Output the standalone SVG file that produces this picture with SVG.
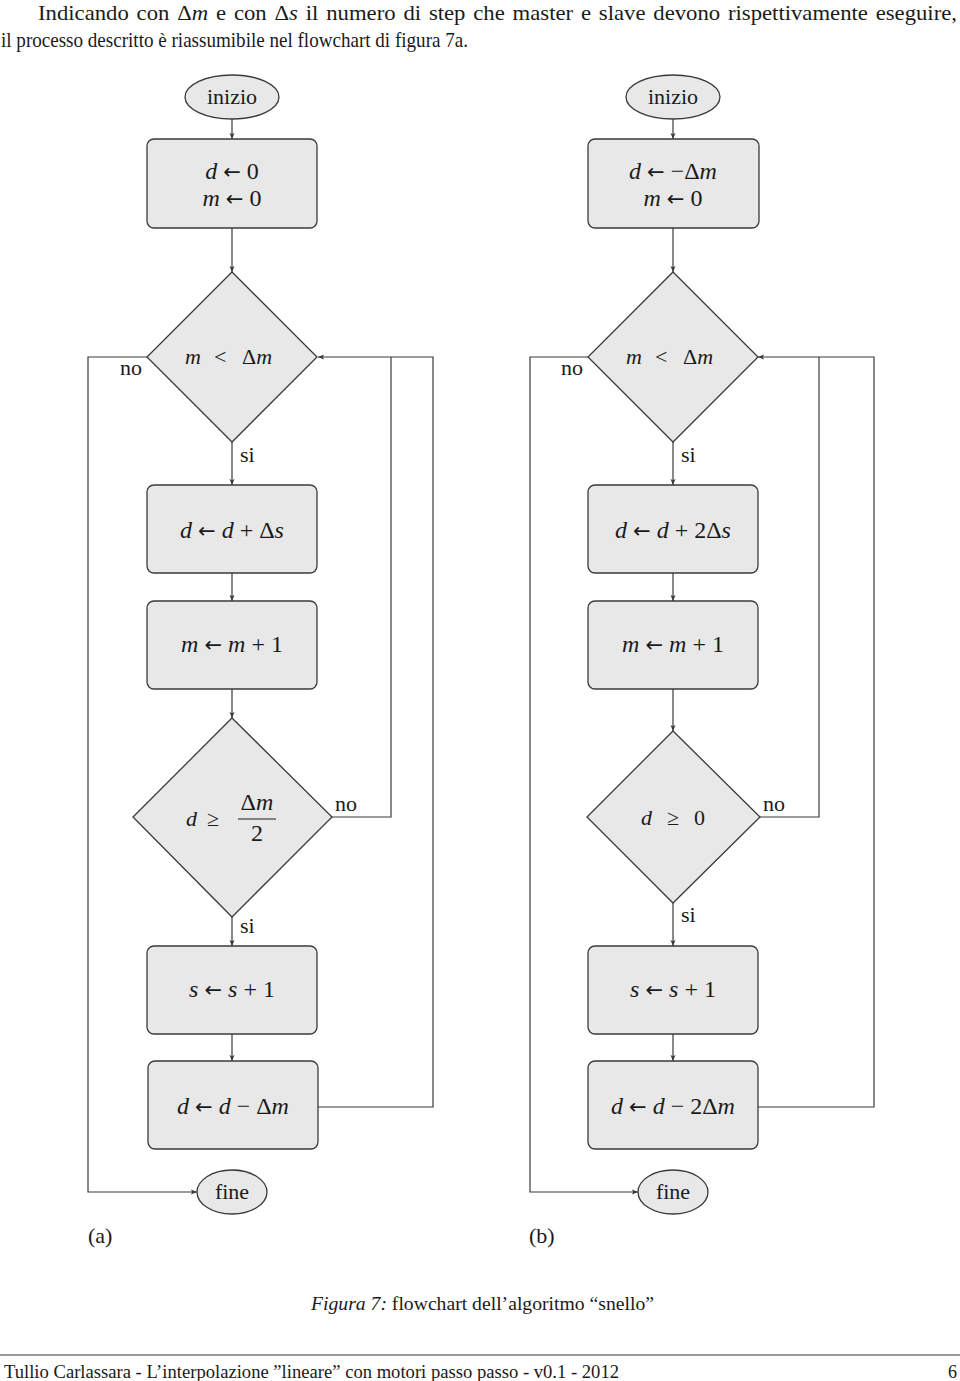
<svg xmlns="http://www.w3.org/2000/svg" width="960" height="1381" viewBox="0 0 960 1381">
<style>
.n{fill:#e8e8e8;stroke:#3a3a3a;stroke-width:1.3}
.c{fill:none;stroke:#3a3a3a;stroke-width:1.2}
text{font-family:"Liberation Serif",serif;fill:#1a1a1a}
.b{font-size:21px}
.m{font-size:22px;text-anchor:middle}
.x{font-size:24px;text-anchor:middle}
.l{font-size:22px}
.i{font-style:italic}
.a{font-family:"DejaVu Sans",sans-serif;font-size:21px}
</style>
<defs>
<marker id="ah" markerWidth="7" markerHeight="6" refX="6" refY="3" orient="auto" markerUnits="userSpaceOnUse"><path d="M0,0.5 L6,3 L0,5.5 L1.2,3 z" fill="#3a3a3a"/></marker>
</defs>
<rect width="960" height="1381" fill="#fff"/>
<text class="b" x="38" y="20" font-size="22" word-spacing="2" textLength="919" lengthAdjust="spacingAndGlyphs">Indicando con Δ<tspan class="i">m</tspan> e con Δ<tspan class="i">s</tspan> il numero di step che master e slave devono rispettivamente eseguire,</text>
<text class="b" x="1" y="47" textLength="467" lengthAdjust="spacingAndGlyphs">il processo descritto è riassumibile nel flowchart di figura 7a.</text>

<g id="connectors">
<path class="c" d="M232,119 V139" marker-end="url(#ah)"/>
<path class="c" d="M232,228 V272" marker-end="url(#ah)"/>
<path class="c" d="M232,442 V485" marker-end="url(#ah)"/>
<path class="c" d="M232,573 V601" marker-end="url(#ah)"/>
<path class="c" d="M232,689 V718" marker-end="url(#ah)"/>
<path class="c" d="M232,917 V946" marker-end="url(#ah)"/>
<path class="c" d="M232,1034 V1061" marker-end="url(#ah)"/>
<path class="c" d="M148,357 H88 V1192 H197" marker-end="url(#ah)"/>
<path class="c" d="M332,817 H391 V357"/>
<path class="c" d="M318,1107 H433 V357 H318" marker-end="url(#ah)"/>
<path class="c" d="M673,119 V139" marker-end="url(#ah)"/>
<path class="c" d="M673,228 V272" marker-end="url(#ah)"/>
<path class="c" d="M673,442 V485" marker-end="url(#ah)"/>
<path class="c" d="M673,573 V601" marker-end="url(#ah)"/>
<path class="c" d="M673,689 V731" marker-end="url(#ah)"/>
<path class="c" d="M673,903 V946" marker-end="url(#ah)"/>
<path class="c" d="M673,1034 V1061" marker-end="url(#ah)"/>
<path class="c" d="M588,357 H530 V1192 H638" marker-end="url(#ah)"/>
<path class="c" d="M760,817 H819 V357"/>
<path class="c" d="M758,1107 H874 V357 H758" marker-end="url(#ah)"/>
<text class="l" x="120" y="375">no</text>
<text class="l" x="240" y="462">si</text>
<text class="l" x="335" y="811">no</text>
<text class="l" x="240" y="933">si</text>
<text class="l" x="561" y="375">no</text>
<text class="l" x="681" y="462">si</text>
<text class="l" x="763" y="811">no</text>
<text class="l" x="681" y="922">si</text>
</g>

<g id="a-start"><ellipse class="n" cx="232" cy="97" rx="47" ry="22"/><text class="m" x="232" y="104">inizio</text></g>
<g id="a-init"><rect class="n" x="147" y="139" width="170" height="89" rx="7"/><text class="x" x="232" y="179"><tspan class="i">d</tspan> <tspan class="a">←</tspan> 0</text><text class="x" x="232" y="206"><tspan class="i">m</tspan> <tspan class="a">←</tspan> 0</text></g>
<g id="a-cond1"><path class="n" d="M232,272 L317,357 L232,442 L147,357 Z"/><text class="l i" x="185" y="364" font-size="24">m</text><text class="l" x="214" y="364" font-size="24">&lt;</text><text class="l" x="242" y="364" font-size="24">Δ<tspan class="i">m</tspan></text></g>
<g id="a-d"><rect class="n" x="147" y="485" width="170" height="88" rx="7"/><text class="x" x="232" y="538"><tspan class="i">d</tspan> <tspan class="a">←</tspan> <tspan class="i">d</tspan> + Δ<tspan class="i">s</tspan></text></g>
<g id="a-m"><rect class="n" x="147" y="601" width="170" height="88" rx="7"/><text class="x" x="232" y="652"><tspan class="i">m</tspan> <tspan class="a">←</tspan> <tspan class="i">m</tspan> + 1</text></g>
<g id="a-cond2"><path class="n" d="M232,718 L332,817 L232,917 L133,817 Z"/>
<text class="l i" x="186" y="826" font-size="24">d</text><text class="l" x="207" y="826" font-size="24">≥</text>
<text class="x" x="257" y="810">Δ<tspan class="i">m</tspan></text>
<line x1="238" y1="819" x2="276" y2="819" stroke="#1a1a1a" stroke-width="1.1"/>
<text class="x" x="257" y="841">2</text></g>
<g id="a-s"><rect class="n" x="147" y="946" width="170" height="88" rx="7"/><text class="x" x="232" y="997"><tspan class="i">s</tspan> <tspan class="a">←</tspan> <tspan class="i">s</tspan> + 1</text></g>
<g id="a-dm"><rect class="n" x="148" y="1061" width="170" height="88" rx="7"/><text class="x" x="233" y="1114"><tspan class="i">d</tspan> <tspan class="a">←</tspan> <tspan class="i">d</tspan> − Δ<tspan class="i">m</tspan></text></g>
<g id="a-end"><ellipse class="n" cx="232" cy="1192" rx="35" ry="22"/><text class="m" x="232" y="1199">fine</text></g>

<g id="b-start"><ellipse class="n" cx="673" cy="97" rx="47" ry="22"/><text class="m" x="673" y="104">inizio</text></g>
<g id="b-init"><rect class="n" x="588" y="139" width="171" height="89" rx="7"/><text class="x" x="673" y="179"><tspan class="i">d</tspan> <tspan class="a">←</tspan> −Δ<tspan class="i">m</tspan></text><text class="x" x="673" y="206"><tspan class="i">m</tspan> <tspan class="a">←</tspan> 0</text></g>
<g id="b-cond1"><path class="n" d="M673,272 L758,357 L673,442 L588,357 Z"/><text class="l i" x="626" y="364" font-size="24">m</text><text class="l" x="655" y="364" font-size="24">&lt;</text><text class="l" x="683" y="364" font-size="24">Δ<tspan class="i">m</tspan></text></g>
<g id="b-d"><rect class="n" x="588" y="485" width="170" height="88" rx="7"/><text class="x" x="673" y="538"><tspan class="i">d</tspan> <tspan class="a">←</tspan> <tspan class="i">d</tspan> + 2Δ<tspan class="i">s</tspan></text></g>
<g id="b-m"><rect class="n" x="588" y="601" width="170" height="88" rx="7"/><text class="x" x="673" y="652"><tspan class="i">m</tspan> <tspan class="a">←</tspan> <tspan class="i">m</tspan> + 1</text></g>
<g id="b-cond2"><path class="n" d="M673,731 L760,817 L673,903 L587,817 Z"/><text class="l i" x="641" y="825" font-size="24">d</text><text class="l" x="667" y="825" font-size="24">≥</text><text class="l" x="694" y="825" font-size="24">0</text></g>
<g id="b-s"><rect class="n" x="588" y="946" width="170" height="88" rx="7"/><text class="x" x="673" y="997"><tspan class="i">s</tspan> <tspan class="a">←</tspan> <tspan class="i">s</tspan> + 1</text></g>
<g id="b-dm"><rect class="n" x="588" y="1061" width="170" height="88" rx="7"/><text class="x" x="673" y="1114"><tspan class="i">d</tspan> <tspan class="a">←</tspan> <tspan class="i">d</tspan> − 2Δ<tspan class="i">m</tspan></text></g>
<g id="b-end"><ellipse class="n" cx="673" cy="1192" rx="35" ry="22"/><text class="m" x="673" y="1199">fine</text></g>

<text class="l" x="88" y="1243">(a)</text>
<text class="l" x="529" y="1243">(b)</text>
<text x="311" y="1310" font-size="19" textLength="343" lengthAdjust="spacingAndGlyphs"><tspan class="i">Figura 7:</tspan> flowchart dell’algoritmo “snello”</text>
<line x1="0" y1="1355" x2="960" y2="1355" stroke="#333" stroke-width="1.2"/>
<text x="4" y="1378" font-size="18" textLength="615" lengthAdjust="spacingAndGlyphs">Tullio Carlassara - L’interpolazione ”lineare” con motori passo passo - v0.1 - 2012</text>
<text x="948" y="1378" font-size="18">6</text>
</svg>
